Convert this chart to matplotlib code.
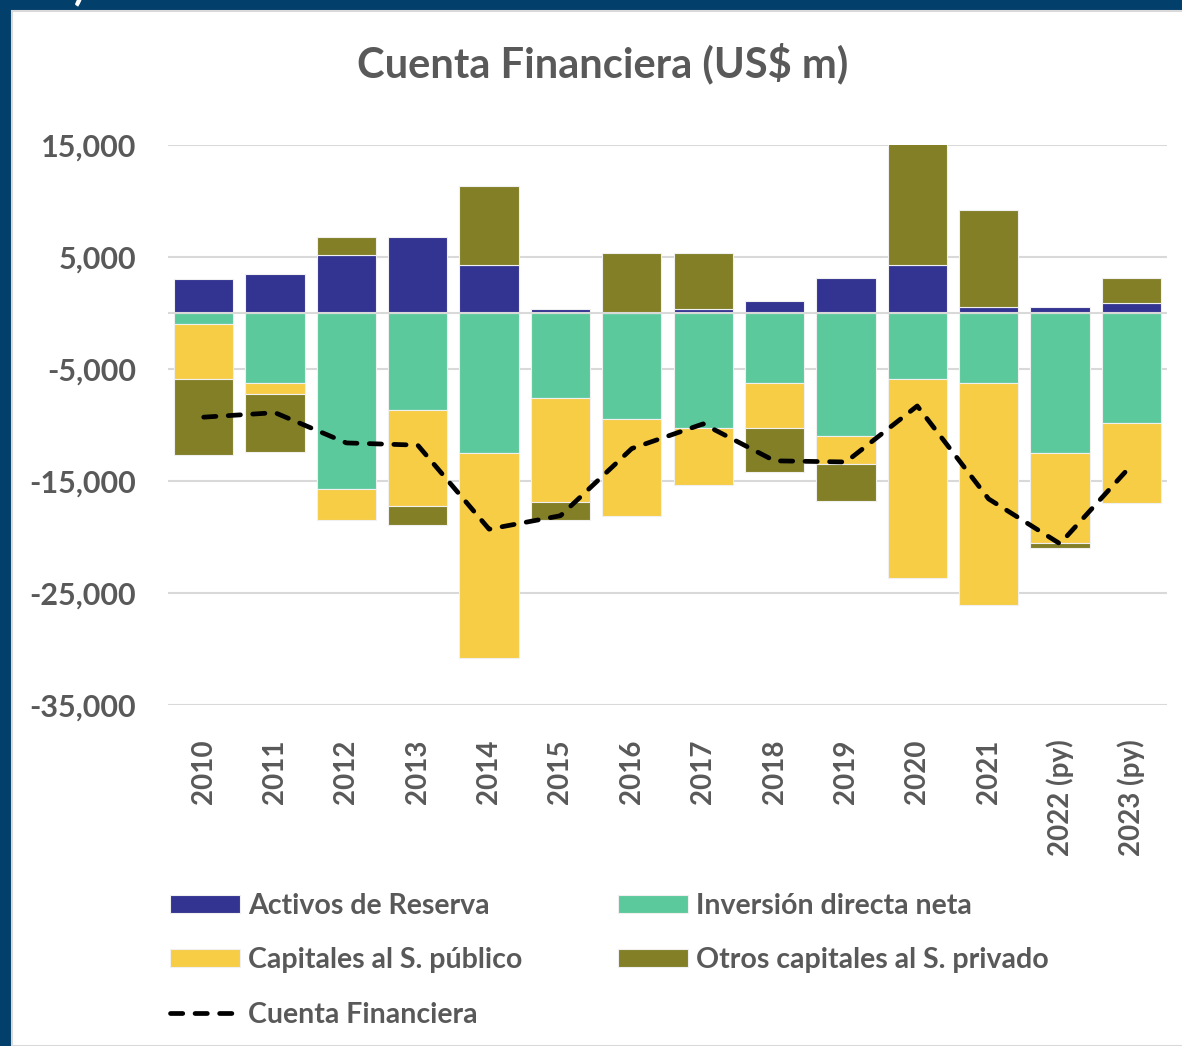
import matplotlib as mpl
import matplotlib.pyplot as plt
import numpy as np
from matplotlib.patches import Rectangle
from matplotlib.ticker import FuncFormatter

mpl.use("Agg")
plt.rcParams["font.family"] = ["Lato", "DejaVu Sans"]
plt.rcParams["font.weight"] = "bold"

# data (US$ m)
years = ["2010", "2011", "2012", "2013", "2014", "2015", "2016",
         "2017", "2018", "2019", "2020", "2021", "2022 (py)", "2023 (py)"]
reserva = [3000, 3500, 5200, 6750, 4250, 350, 0, 350, 1100, 3150, 4250, 500, 500, 900]
inversion = [-1000, -6250, -15700, -8700, -12500, -7600, -9450, -10250, -6250,
             -10950, -5900, -6250, -12500, -9800]
publico = [-4900, -1000, -2800, -8550, -18300, -9250, -8700, -5100, -4000,
           -2500, -17750, -19800, -8000, -7200]
privado = [-6800, -5200, 1550, -1650, 7050, -1650, 5400, 5050, -3950, -3350,
           11000, 8700, -500, 2250]
cuenta = [-9300, -8900, -11600, -11800, -19300, -18100, -12100, -9900, -13200,
          -13300, -8300, -16600, -20600, -13600]

series = [
    ("Activos de Reserva", reserva, "#333391"),
    ("Inversión directa neta", inversion, "#5cc99d"),
    ("Capitales al S. público", publico, "#f7cd46"),
    ("Otros capitales al S. privado", privado, "#827f27"),
]
txt_color = "#595959"
grid_color = "#d9d9d9"

fig = plt.figure(figsize=(11.82, 10.46), dpi=100, facecolor="#023f6b")
# white chart panel
fig.patches.append(Rectangle((12 / 1182, 0), 1.0, 1 - 11 / 1046, transform=fig.transFigure,
                             facecolor="white", edgecolor=grid_color, linewidth=1.5,
                             zorder=-10))
fig.text(80 / 1182, 1 + 14 / 1046, ")", color="white", fontsize=30, ha="center", va="center")

ax = fig.add_axes([168 / 1182, 1 - 705 / 1046, (1167 - 168) / 1182, (705 - 145) / 1046])
ax.set_facecolor("none")

x = np.arange(len(years))
pos_base = np.zeros(len(years))
neg_base = np.zeros(len(years))
handles = {}
for name, vals, col in series:
    v = np.array(vals, dtype=float)
    bottom = np.where(v >= 0, pos_base, neg_base)
    b = ax.bar(x, v, 0.83, bottom=bottom, color=col, edgecolor="#f0f0f0",
               linewidth=0.8, zorder=2, label=name)
    handles[name] = b
    pos_base = pos_base + np.where(v > 0, v, 0)
    neg_base = neg_base + np.where(v < 0, v, 0)

ax.axhline(0, color=grid_color, lw=1.5, zorder=2.5)
line, = ax.plot(x, cuenta, color="black", lw=3.4, linestyle=(0, (2.6, 2.6)),
                dash_capstyle="round", zorder=3, label="Cuenta Financiera")

ax.set_xlim(-0.5, len(years) - 0.5)
ax.set_ylim(-35000, 15000)
ax.set_yticks(np.arange(-35000, 15001, 10000))
ax.yaxis.set_major_formatter(FuncFormatter(lambda v, p: f"{v:,.0f}"))
ax.yaxis.grid(True, color=grid_color, lw=1.5, zorder=0)
ax.set_axisbelow(True)
for s in ax.spines.values():
    s.set_visible(False)
ax.set_xticks(x)
ax.set_xticklabels(years, rotation=90, va="top", ha="center")
ax.tick_params(axis="x", length=0, pad=25, labelsize=20, labelcolor=txt_color)
ax.tick_params(axis="y", length=0, pad=23, labelsize=22, labelcolor=txt_color)

fig.text(603 / 1182, 1 - 63 / 1046, "Cuenta Financiera (US$ m)", ha="center", va="center",
         fontsize=30, color=txt_color, fontweight="bold")

h_list = [handles["Activos de Reserva"], handles["Capitales al S. público"], line,
          handles["Inversión directa neta"], handles["Otros capitales al S. privado"]]
l_list = ["Activos de Reserva", "Capitales al S. público", "Cuenta Financiera",
          "Inversión directa neta", "Otros capitales al S. privado"]
leg = fig.legend(h_list, l_list, ncol=2, loc="upper left",
                 bbox_to_anchor=(170 / 1182, 1 - 893 / 1046), frameon=False,
                 borderpad=0, borderaxespad=0,
                 fontsize=20.5, handlelength=2.45, handleheight=0.6, handletextpad=0.3,
                 columnspacing=3.35, labelspacing=1.0)
for t in leg.get_texts():
    t.set_color(txt_color)

fig.savefig("out.png", dpi=100, facecolor=fig.get_facecolor())
